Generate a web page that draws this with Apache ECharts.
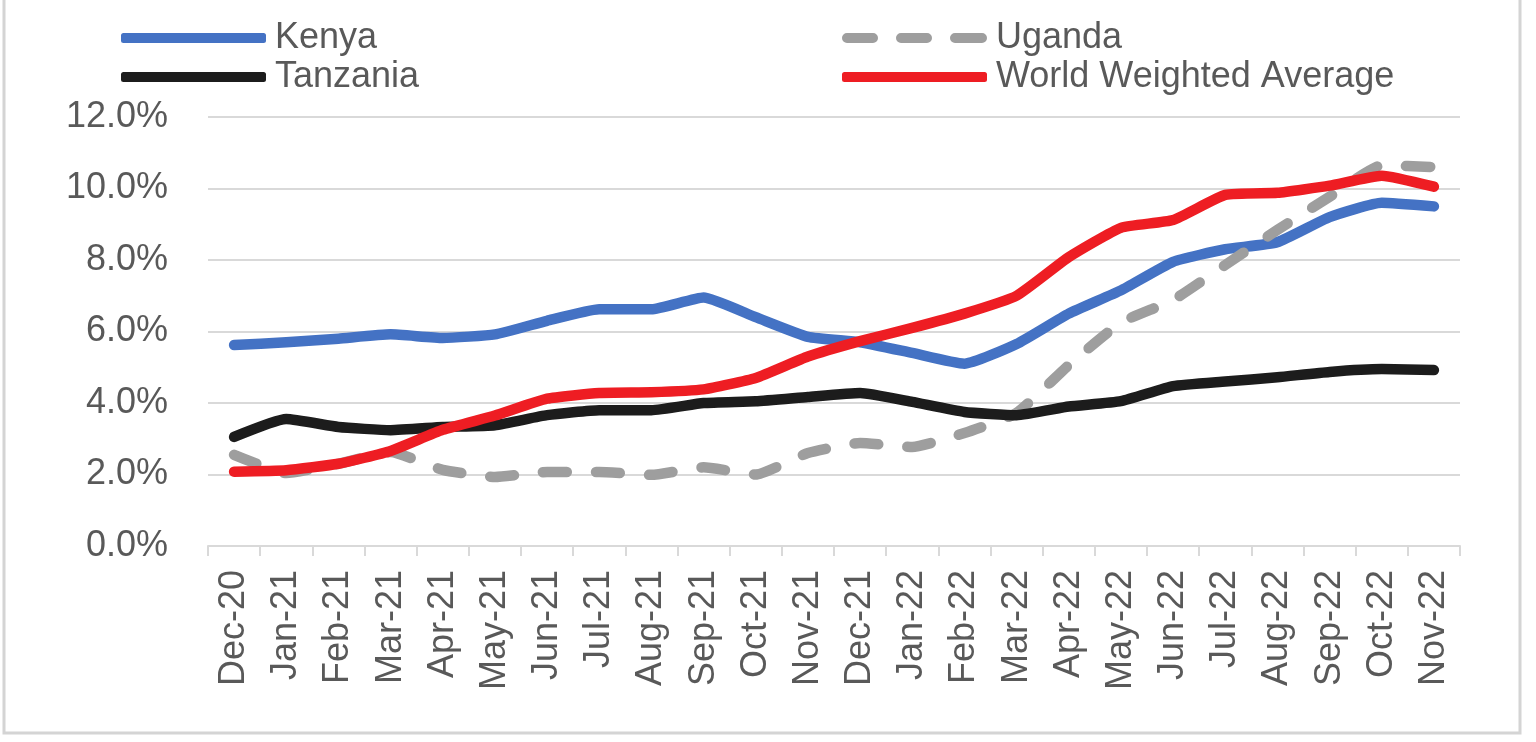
<!DOCTYPE html>
<html><head><meta charset="utf-8">
<script src="https://cdn.jsdelivr.net/npm/echarts@6/dist/echarts.min.js"></script>
<style>html,body{margin:0;padding:0;background:#fff}#c{width:1536px;height:742px}</style>
</head><body><div id="c"></div>
<script>
var categories = ['Dec-20','Jan-21','Feb-21','Mar-21','Apr-21','May-21','Jun-21','Jul-21','Aug-21','Sep-21','Oct-21','Nov-21','Dec-21','Jan-22','Feb-22','Mar-22','Apr-22','May-22','Jun-22','Jul-22','Aug-22','Sep-22','Oct-22','Nov-22'];
var kenya    = [5.62,5.7,5.8,5.92,5.82,5.92,6.3,6.62,6.62,6.95,6.4,5.85,5.7,5.4,5.1,5.65,6.5,7.15,7.95,8.3,8.5,9.2,9.6,9.5];
var uganda   = [2.55,2.04,2.3,2.63,2.13,1.93,2.07,2.07,1.99,2.2,2.0,2.6,2.88,2.77,3.16,3.72,5.06,6.25,6.88,7.86,8.84,9.77,10.65,10.6];
var tanzania = [3.05,3.55,3.33,3.24,3.33,3.38,3.66,3.8,3.8,4.0,4.05,4.17,4.28,4.03,3.75,3.66,3.9,4.05,4.47,4.6,4.72,4.87,4.95,4.92];
var world    = [2.08,2.12,2.3,2.66,3.25,3.65,4.12,4.28,4.3,4.38,4.7,5.3,5.73,6.1,6.5,7.0,8.08,8.9,9.12,9.82,9.88,10.08,10.36,10.05];
var yTicks = [0,2,4,6,8,10,12];

var FONT = 'Liberation Sans, Arial, sans-serif';
var TXT = '#595959';
var DASH_ICON = 'path://M5,0 H31 A5,5 0 0 1 31,10 H5 A5,5 0 0 1 5,0 Z M59,0 H85 A5,5 0 0 1 85,10 H59 A5,5 0 0 1 59,0 Z M113,0 H140 A5,5 0 0 1 140,10 H113 A5,5 0 0 1 113,0 Z';
var chart = echarts.init(document.getElementById('c'));
function ser(name, data, color, dashed) {
  return {
    name: name, type: 'line', data: data, symbol: 'none', smooth: 0.15,
    lineStyle: { color: color, width: 10.5, type: dashed ? [24, 29] : 'solid', cap: 'round', join: 'round' },
    itemStyle: { color: color }
  };
}
var legendCommon = { orient: 'vertical', top: 15, itemWidth: 145, itemHeight: 10, itemGap: 3,
  textStyle: { fontFamily: FONT, fontSize: 36, color: TXT, padding: [0, 0, 0, 4] } };
chart.setOption({
  animation: false,
  graphic: [{ type: 'rect', shape: { x: 4, y: -10, width: 1516, height: 743 }, style: { fill: 'none', stroke: '#d4d4d4', lineWidth: 3 } }],
  legend: [
    Object.assign({ left: 116, data: [{ name: 'Kenya', icon: 'roundRect' }, { name: 'Tanzania', icon: 'roundRect' }] }, legendCommon),
    Object.assign({ left: 837, data: [{ name: 'Uganda', icon: DASH_ICON }, { name: 'World Weighted Average', icon: 'roundRect' }] }, legendCommon)
  ],
  grid: { left: 208, right: 76, top: 117, bottom: 196, containLabel: false },
  xAxis: {
    type: 'category', data: categories, boundaryGap: true,
    axisLine: { lineStyle: { color: '#d9d9d9', width: 2 } },
    axisTick: { show: true, length: 10, lineStyle: { color: '#d9d9d9', width: 2 } },
    axisLabel: { rotate: 90, margin: 24, interval: 0, fontFamily: FONT, fontSize: 36, color: TXT }
  },
  yAxis: {
    type: 'value', min: yTicks[0], max: yTicks[yTicks.length - 1], interval: 2,
    axisLine: { show: false }, axisTick: { show: false },
    splitLine: { lineStyle: { color: '#d9d9d9', width: 2 } },
    axisLabel: { margin: 40, fontFamily: FONT, fontSize: 36, color: TXT, formatter: function (v) { return v.toFixed(1) + '%'; } }
  },
  series: [
    ser('Kenya', kenya, '#4472C4', false),
    ser('Uganda', uganda, '#9E9E9E', true),
    ser('Tanzania', tanzania, '#1c1c1c', false),
    ser('World Weighted Average', world, '#EE1D23', false)
  ]
});
</script></body></html>
